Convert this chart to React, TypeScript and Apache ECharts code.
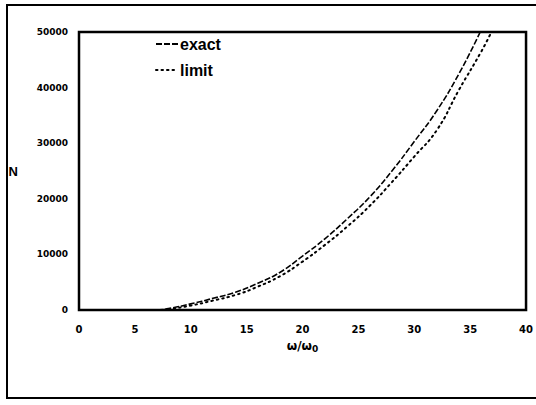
import React, { useEffect, useRef } from "react";
import * as echarts from "echarts";

const exactX = [7, 8, 10, 12, 14, 16, 18, 20, 22, 24, 26, 28, 30, 32, 34, 35.9];
const exactY = [0, 250, 1100, 2100, 3200, 4800, 6800, 9700, 12800, 16400, 20300, 25000, 30300, 35800, 42500, 50000];
const limitX = [7.5, 8, 10, 12, 14, 16, 18, 20, 22, 24, 26, 28, 30, 32, 34, 36, 36.9];
const limitY = [0, 120, 800, 1700, 2700, 4200, 6100, 8700, 11700, 15000, 18700, 23000, 27600, 32300, 39600, 46500, 50000];
const xTicks = [0, 5, 10, 15, 20, 25, 30, 35, 40];
const yTicks = [0, 10000, 20000, 30000, 40000, 50000];

export default function App() {
  const ref = useRef<HTMLDivElement>(null);
  useEffect(() => {
    if (!ref.current) return;
    const chart = echarts.init(ref.current, null, { renderer: "svg" });
    const font = "Liberation Sans";
    const dv = "DejaVu Sans";
    chart.setOption({
      animation: false,
      backgroundColor: "#fff",
      textStyle: { fontFamily: font },
      grid: { left: 79, top: 32, right: 4, bottom: 95, show: true, borderColor: "#000", borderWidth: 2.5, backgroundColor: "transparent" },
      graphic: [
        { type: "rect", shape: { x: 7, y: 5, width: 540, height: 393 }, style: { fill: "none", stroke: "#000", lineWidth: 2 } },
      ],
      legend: {
        left: 150,
        top: 31,
        orient: "vertical",
        itemGap: 10,
        itemWidth: 22,
        itemHeight: 14,
        itemStyle: { opacity: 0 },
        textStyle: { fontFamily: font, fontSize: 16, fontWeight: "bold", color: "#000", padding: [0, 0, 0, -3] },
        data: ["exact", "limit"],
      },
      xAxis: {
        type: "value",
        min: 0,
        max: 40,
        interval: 5,
        axisLine: { show: false },
        axisTick: { show: false },
        splitLine: { show: false },
        axisLabel: { color: "#000", fontFamily: dv, fontSize: 10, fontWeight: "bold", margin: 14, formatter: (v: number) => (xTicks.includes(v) ? String(v) : "") },
        name: "{a|ω/ω}{b|0}",
        nameLocation: "middle",
        nameGap: 29,
        nameTextStyle: {
          rich: {
            a: { fontFamily: dv, fontSize: 12, fontWeight: "bold", color: "#000" },
            b: { fontFamily: dv, fontSize: 9, fontWeight: "bold", color: "#000", verticalAlign: "bottom", padding: [5, 0, 0, 0] },
          },
        },
      },
      yAxis: {
        type: "value",
        min: 0,
        max: 50000,
        interval: 10000,
        axisLine: { show: false },
        axisTick: { show: false },
        splitLine: { show: false },
        axisLabel: { color: "#000", fontFamily: dv, fontSize: 9, fontWeight: "bold", margin: 11, formatter: (v: number) => (yTicks.includes(v) ? String(v) : "") },
        name: "N",
        nameLocation: "middle",
        nameGap: 61,
        nameRotate: 0,
        nameTextStyle: { fontFamily: font, fontSize: 13, fontWeight: "bold", color: "#000" },
      },
      series: [
        {
          name: "exact",
          type: "line",
          smooth: true,
          showSymbol: false,
          symbol: "none",
          data: exactX.map((x, i) => [x, exactY[i]]),
          lineStyle: { color: "#000", width: 1.6, type: [6, 2] },
          itemStyle: { color: "#000" },
        },
        {
          name: "limit",
          type: "line",
          smooth: true,
          showSymbol: false,
          symbol: "none",
          data: limitX.map((x, i) => [x, limitY[i]]),
          lineStyle: { color: "#000", width: 2, type: [1.5, 4], cap: "round" },
          itemStyle: { color: "#000" },
        },
      ],
    });
    return () => chart.dispose();
  }, []);
  return <div ref={ref} style={{ width: 536, height: 405, position: "absolute", left: 0, top: 0 }} />;
}
